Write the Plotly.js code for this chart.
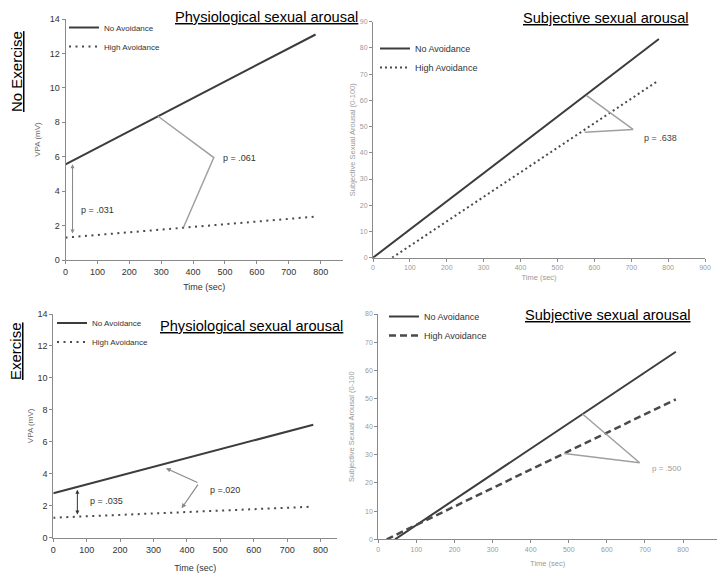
<!DOCTYPE html>
<html>
<head>
<meta charset="utf-8">
<script src="https://cdn.plot.ly/plotly-3.0.1.min.js"></script>
<style>html,body{margin:0;padding:0;background:#fff}#chart{width:717px;height:573px}</style>
</head>
<body>
<div id="chart"></div>
<script>
// ---------- DATA ----------
// Top-left: No Exercise, physiological arousal (VPA, mV)
var tlNoTime = [0, 784];
var tlNoVPA = [5.56, 13.1];
var tlHighTime = [0, 784];
var tlHighVPA = [1.3, 2.52];
// Top-right: No Exercise, subjective arousal (0-100)
var trNoTime = [0, 775];
var trNoSub = [0, 83.4];
var trHighTime = [52, 769];
var trHighSub = [0, 67.1];
// Bottom-left: Exercise, physiological arousal
var blNoTime = [0, 778];
var blNoVPA = [2.78, 7.07];
var blHighTime = [0, 774];
var blHighVPA = [1.25, 1.94];
// Bottom-right: Exercise, subjective arousal
var brNoTime = [44, 781];
var brNoSub = [0, 66.6];
var brHighTime = [22, 781];
var brHighSub = [0, 49.7];

// p-value annotations
var pLabels = ["p = .031", "p = .061", "p = .638", "p = .035", "p =.020", "p = .500"];
// bracket connectors (time, value)
var tlBracketTime = [290, 465, 370];
var tlBracketVPA = [8.35, 5.95, 1.9];
var trBracketTime = [579, 705, 574];
var trBracketSub = [61.8, 48.9, 47.8];
var brBracketTime = [536, 686, 488];
var brBracketSub = [44.5, 27.2, 30.5];
// arrows: [x, yFrom, yTo]
var tlArrow = [22, 1.45, 5.56];
var blArrow = [72, 1.36, 3.0];
var blArrowVertex = [436, 3.41];
var blArrowTips = [[337, 4.35], [384, 1.84]];

var seriesNames = ["No Avoidance", "High Avoidance"];
var xTicks = [0, 100, 200, 300, 400, 500, 600, 700, 800, 900];
var vpaTicks = [0, 2, 4, 6, 8, 10, 12, 14];
var subTicks = [0, 10, 20, 30, 40, 50, 60, 70, 80, 90];

// ---------- STYLE ----------
var FONT = "Liberation Sans, Arial, sans-serif";
var solidC = "#3c3c3c", dotC = "#4a4a4a", brC = "#a0a0a0";

function line(x, y, xa, ya, name, dash, lg, w, col) {
  return {x: x, y: y, xaxis: xa, yaxis: ya, name: name, type: "scatter", mode: "lines",
    line: {color: col, width: w, dash: dash}, legend: lg, hoverinfo: "skip"};
}
function bracket(x, y, xa, ya) {
  return {x: x, y: y, xaxis: xa, yaxis: ya, type: "scatter", mode: "lines", showlegend: false,
    line: {color: brC, width: 1.5}, hoverinfo: "skip"};
}

var data = [
  line(tlNoTime, tlNoVPA, "x", "y", seriesNames[0], "solid", "legend", 2, solidC),
  line(tlHighTime, tlHighVPA, "x", "y", seriesNames[1], "2px,4.5px", "legend", 2, dotC),
  line(trNoTime, trNoSub, "x2", "y2", seriesNames[0], "solid", "legend2", 2, solidC),
  line(trHighTime, trHighSub, "x2", "y2", seriesNames[1], "2px,3px", "legend2", 2, dotC),
  line(blNoTime, blNoVPA, "x3", "y3", seriesNames[0], "solid", "legend3", 2, solidC),
  line(blHighTime, blHighVPA, "x3", "y3", seriesNames[1], "2px,4.5px", "legend3", 2, dotC),
  line(brNoTime, brNoSub, "x4", "y4", seriesNames[0], "solid", "legend4", 2, solidC),
  line(brHighTime, brHighSub, "x4", "y4", seriesNames[1], "7px,4px", "legend4", 2.5, dotC),
  bracket(tlBracketTime, tlBracketVPA, "x", "y"),
  bracket(trBracketTime, trBracketSub, "x2", "y2"),
  bracket(brBracketTime, brBracketSub, "x4", "y4")
];

function xax(domain, range, anchor, tf, titleFont, standoff) {
  return {domain: domain, range: range, anchor: anchor, showline: true, linecolor: "#8a8a8a", linewidth: 1,
    ticks: "outside", ticklen: 3, tickcolor: "#8a8a8a", tickvals: xTicks, showgrid: false, zeroline: false,
    tickfont: tf, title: {text: "Time (sec)", font: titleFont, standoff: standoff}, fixedrange: true};
}
function yax(domain, range, anchor, tvals, tf, title, titleFont, standoff) {
  return {domain: domain, range: range, anchor: anchor, showline: true, linecolor: "#8a8a8a", linewidth: 1,
    ticks: "outside", ticklen: 3, tickcolor: "#8a8a8a", tickvals: tvals, showgrid: false, zeroline: false,
    tickfont: tf, title: {text: title, font: titleFont, standoff: standoff}, fixedrange: true};
}
var leftTick = {family: FONT, size: 9, color: "#333"};
var rightTick = {family: FONT, size: 7, color: "#9a9a9a"};
var leftXTitle = {family: FONT, size: 9, color: "#333"};
var leftYTitle = {family: FONT, size: 8, color: "#666"};
var rightTitle = {family: FONT, size: 7.5, color: "#9a9a9a"};

function fy(py) { return 1 - py / 573; }
function fx(px) { return px / 717; }

function legendAt(px, py, size) {
  return {x: fx(px), y: fy(py), xanchor: "left", yanchor: "top", bgcolor: "rgba(0,0,0,0)",
    font: {family: FONT, size: size, color: "#333"}, tracegroupgap: 0, itemclick: false, itemdoubleclick: false};
}
function heading(px, py, text, size, angle) {
  return {xref: "paper", yref: "paper", x: fx(px), y: fy(py), xanchor: "center", yanchor: "middle",
    text: "<u>" + text + "</u>", textangle: angle || 0, showarrow: false,
    font: {family: FONT, size: size, color: "#000"}};
}
function pText(xr, yr, x, y, text, size, color) {
  return {xref: xr, yref: yr, x: x, y: y, xanchor: "left", yanchor: "middle", text: text, showarrow: false,
    font: {family: FONT, size: size, color: color}};
}

var annotations = [
  heading(266.5, 17, "Physiological sexual arousal", 14.6),
  heading(606, 18, "Subjective sexual arousal", 14.6),
  heading(252, 326, "Physiological sexual arousal", 14.6),
  heading(607.5, 315, "Subjective sexual arousal", 14.6),
  heading(16, 72, "No Exercise", 15, -90),
  heading(15, 351, "Exercise", 15, -90),
  pText("x", "y", 42, 2.9, pLabels[0], 9, "#333"),
  pText("x", "y", 487, 5.93, pLabels[1], 9, "#333"),
  pText("x2", "y2", 730, 45.8, pLabels[2], 9, "#444"),
  pText("x3", "y3", 103, 2.3, pLabels[3], 9, "#333"),
  pText("x3", "y3", 462, 3.0, pLabels[4], 9, "#333"),
  pText("x4", "y4", 713, 25, pLabels[5], 8, "#9a9a9a"),
  // arrows
  {xref: "x", yref: "y", axref: "x", ayref: "y", x: tlArrow[0], y: tlArrow[2], ax: tlArrow[0], ay: tlArrow[1], text: "",
    showarrow: true, arrowside: "end+start", arrowhead: 2, arrowsize: 0.8, arrowwidth: 1, arrowcolor: "#888", standoff: 0, startstandoff: 0},
  {xref: "x3", yref: "y3", axref: "x3", ayref: "y3", x: blArrow[0], y: blArrow[2], ax: blArrow[0], ay: blArrow[1], text: "",
    showarrow: true, arrowside: "end+start", arrowhead: 2, arrowsize: 0.8, arrowwidth: 1, arrowcolor: "#333", standoff: 0},
  {xref: "x3", yref: "y3", axref: "x3", ayref: "y3", x: blArrowTips[0][0], y: blArrowTips[0][1], ax: blArrowVertex[0], ay: blArrowVertex[1], text: "",
    showarrow: true, arrowhead: 2, arrowsize: 0.8, arrowwidth: 1.2, arrowcolor: "#8a8a8a", standoff: 0},
  {xref: "x3", yref: "y3", axref: "x3", ayref: "y3", x: blArrowTips[1][0], y: blArrowTips[1][1], ax: blArrowVertex[0], ay: blArrowVertex[1], text: "",
    showarrow: true, arrowhead: 2, arrowsize: 0.8, arrowwidth: 1.2, arrowcolor: "#8a8a8a", standoff: 0}
];

var layout = {
  width: 717, height: 573, margin: {l: 0, r: 0, t: 0, b: 0},
  paper_bgcolor: "#fff", plot_bgcolor: "#fff",
  font: {family: FONT},
  xaxis: xax([fx(65.5), fx(343)], [0, 870], "y", leftTick, leftXTitle, 7),
  yaxis: yax([fy(260), fy(19)], [0, 14], "x", vpaTicks, leftTick, "VPA (mV)", leftYTitle, 7),
  xaxis2: xax([fx(373), fx(705)], [0, 900], "y2", rightTick, rightTitle, 4),
  yaxis2: yax([fy(257.7), fy(21.7)], [0, 90], "x2", subTicks, rightTick, "Subjective Sexual Arousal (0-100)", rightTitle, 3),
  xaxis3: xax([fx(53.3), fx(337.3)], [0, 850], "y3", leftTick, leftXTitle, 11),
  yaxis3: yax([fy(537.7), fy(314)], [0, 14], "x3", vpaTicks, leftTick, "VPA (mV)", leftYTitle, 2),
  xaxis4: xax([fx(378.3), 1], [0, 889], "y4", rightTick, rightTitle, 9),
  yaxis4: yax([fy(539.3), fy(314)], [0, 80], "x4", subTicks.slice(0, 9), rightTick, "Subjective Sexual Arousal (0-100", rightTitle, 9),
  legend: legendAt(64, 13, 8),
  legend2: legendAt(375, 34, 9),
  legend3: legendAt(52, 308.5, 8),
  legend4: legendAt(384, 302, 9),
  annotations: annotations
};

Plotly.newPlot("chart", data, layout, {displayModeBar: false, staticPlot: true});
</script>
</body>
</html>
